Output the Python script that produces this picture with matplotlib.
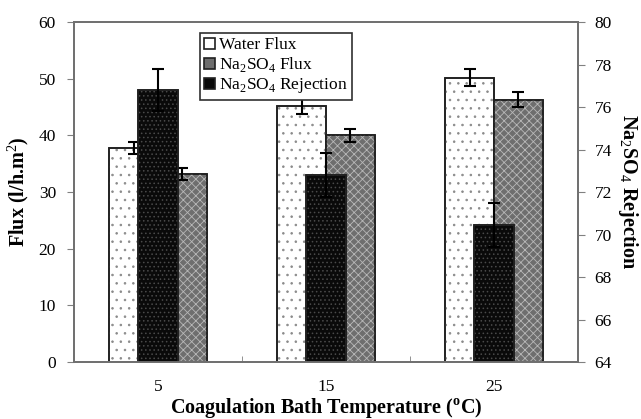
import numpy as np
import matplotlib
matplotlib.use("Agg")
import matplotlib.pyplot as plt

plt.rcParams["font.family"] = ["Liberation Serif", "DejaVu Serif"]
plt.rcParams["mathtext.fontset"] = "custom"
plt.rcParams["mathtext.rm"] = "Liberation Serif"
plt.rcParams["mathtext.bf"] = "Liberation Serif:bold"
plt.rcParams["hatch.linewidth"] = 0.6

temps = ["5", "15", "25"]
water_flux = [37.8, 45.1, 50.2]
water_err = [1.1, 1.3, 1.5]
salt_flux = [33.2, 40.0, 46.3]
salt_err = [1.0, 1.2, 1.3]
rejection = [76.8, 72.8, 70.45]
rejection_err = [1.0, 1.05, 1.05]

x = np.arange(len(temps))
w = 0.29
w_rej = 0.24

fig = plt.figure(figsize=(6.41, 4.19), dpi=100)
ax = fig.add_axes([74 / 641, 57 / 419, 504 / 641, 340 / 419])
ax2 = ax.twinx()


def hatched_bar(axis, pos, vals, width, face, hatch, hcolor, label=None):
    axis.bar(pos, vals, width, color=face, edgecolor="#202020", linewidth=1.2,
             label=label, zorder=2)
    axis.bar(pos, vals, width, color="none", edgecolor=hcolor, hatch=hatch,
             linewidth=0, zorder=2)
    axis.bar(pos, vals, width, color="none", edgecolor="#202020",
             linewidth=1.2, zorder=2)


hatched_bar(ax, x - w / 2, water_flux, w, "white", "..", "#8a8a8a",
            "Water Flux")
hatched_bar(ax, x + w / 2, salt_flux, w, "#6e6e6e", "xxxx", "#b8b8b8",
            "Na$_2$SO$_4$ Flux")
ax.errorbar(x - w / 2, water_flux, yerr=water_err, fmt="none", ecolor="black",
            elinewidth=1.5, capsize=4, capthick=1.5, zorder=3)
ax.errorbar(x + w / 2, salt_flux, yerr=salt_err, fmt="none", ecolor="black",
            elinewidth=1.5, capsize=4, capthick=1.5, zorder=3)

hatched_bar(ax2, x, rejection, w_rej, "#0a0a0a", "....", "#4a4a4a",
            "Na$_2$SO$_4$ Rejection")
ax2.errorbar(x, rejection, yerr=rejection_err, fmt="none", ecolor="black",
             elinewidth=1.5, capsize=4, capthick=1.5, zorder=3)

ax.set_xlim(-0.5, 2.5)
ax.set_ylim(0, 60)
ax2.set_ylim(64, 80)
ax.set_yticks(range(0, 61, 10))
ax2.set_yticks(range(64, 81, 2))
ax.set_xticks(x)
ax.set_xticklabels(temps)
ax.set_xticks([0.5, 1.5], minor=True)
ax.tick_params(axis="x", which="major", length=0, pad=12, labelsize=12.5)
ax.tick_params(axis="x", which="minor", direction="in", length=4,
               color="#808080")
ax.tick_params(axis="y", direction="out", length=5, color="#808080",
               labelsize=12.5, pad=8)
ax2.tick_params(axis="y", direction="out", length=5, color="#808080",
                labelsize=12.5, pad=7)

for a in (ax, ax2):
    for s in a.spines.values():
        s.set_color("#707070")
        s.set_linewidth(1.3)

ax.set_ylabel("Flux (l/h.m$^2$)", fontsize=14.5, fontweight="bold")
ax.yaxis.set_label_coords(-0.085, 0.5)
ax2.set_ylabel("Na$_2$SO$_4$ Rejection", fontsize=14.5, fontweight="bold",
               rotation=270, va="bottom")
ax2.yaxis.set_label_coords(1.075, 0.5)
ax.set_xlabel("Coagulation Bath Temperature ($^{\\mathbf{o}}$C)",
              fontsize=14.5, fontweight="bold", va="top")
ax.xaxis.set_label_coords(0.5, -0.1)

h1, l1 = ax.get_legend_handles_labels()
h2, l2 = ax2.get_legend_handles_labels()
leg = ax2.legend(h1 + h2, l1 + l2, loc="upper left",
                 bbox_to_anchor=(0.25, 0.968), fontsize=12.5, frameon=True,
                 fancybox=False, edgecolor="#303030", framealpha=1,
                 handlelength=0.6, handleheight=0.6, handletextpad=0.25,
                 borderpad=0.25, labelspacing=0.12, borderaxespad=0)
leg.get_frame().set_linewidth(1.2)

fig.savefig("out.png", dpi=100)
